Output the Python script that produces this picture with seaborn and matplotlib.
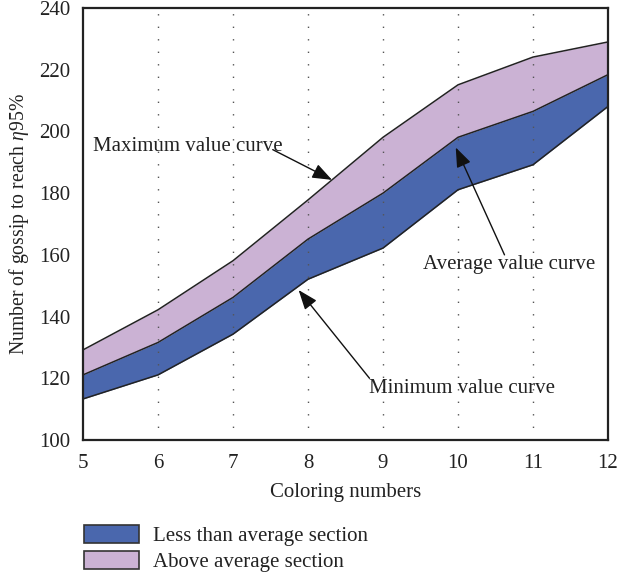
import matplotlib
matplotlib.use("Agg")
import matplotlib.pyplot as plt
from matplotlib.patches import Patch
import pandas as pd
import seaborn as sns

# Coloring numbers and the gossip counts needed to reach eta 95%
coloring = [5, 6, 7, 8, 9, 10, 11, 12]
max_vals = [129.2, 142.2, 158.1, 177.8, 198.1, 215.1, 224.1, 229.0]
avg_vals = [121.1, 131.6, 146.2, 165.1, 180.0, 198.1, 206.5, 218.4]
min_vals = [113.3, 121.1, 134.3, 152.1, 162.2, 181.1, 189.2, 208.1]

y_ticks = [100, 120, 140, 160, 180, 200, 220, 240]
legend_labels = ["Less than average section", "Above average section"]

BLUE = "#4a67ad"
LILAC = "#cbb2d4"
EDGE = "#222222"

sns.set_theme(style="white")
plt.rcParams["font.family"] = ["Liberation Serif", "DejaVu Serif"]
plt.rcParams["mathtext.fontset"] = "custom"
plt.rcParams["mathtext.it"] = "Liberation Serif:italic"
plt.rcParams["mathtext.rm"] = "Liberation Serif"
FS = 15

df = pd.DataFrame({"x": coloring, "max": max_vals, "avg": avg_vals, "min": min_vals})

fig = plt.figure(figsize=(6.17, 5.77), dpi=100)
ax = fig.add_axes([83 / 617, 1 - 440 / 577, (608 - 83) / 617, (440 - 8) / 577])

# shaded sections between the curves
ax.fill_between(df["x"], df["avg"], df["max"], color=LILAC, linewidth=0, zorder=1)
ax.fill_between(df["x"], df["min"], df["avg"], color=BLUE, linewidth=0, zorder=1)

for col in ["max", "avg", "min"]:
    sns.lineplot(data=df, x="x", y=col, ax=ax, color=EDGE, linewidth=1.1, zorder=3)

# dotted vertical guides
for xv in coloring[1:-1]:
    ax.axvline(xv, color="#555555", linewidth=1.0, linestyle=(0, (1, 8)), zorder=2)

ax.set_xlim(5, 12)
ax.set_ylim(100, 240)
ax.set_xticks(coloring)
ax.set_yticks(y_ticks)
ax.tick_params(axis="both", direction="out", length=5, width=1.2, colors="#222222",
               labelsize=FS, labelcolor="#222222", pad=4)
ax.tick_params(axis="x", pad=5)
for sp in ax.spines.values():
    sp.set_linewidth(1.6)
    sp.set_color("#222222")

ax.set_xlabel("Coloring numbers", fontsize=FS, color="#222222", labelpad=7)
ax.set_ylabel(r"Number of gossip to reach $\eta$95%", fontsize=14.2, color="#222222", labelpad=6)

arrow_kw = dict(arrowstyle="-|>,head_length=1.0,head_width=0.38", color="#111111",
                linewidth=1.0, shrinkA=0, shrinkB=0)

ax.annotate("", xy=(8.32, 184.3), xytext=(7.53, 194.1), arrowprops=arrow_kw, zorder=5)
ax.text(5.13, 195.1, "Maximum value curve", fontsize=FS, color="#222222",
        ha="left", va="center", zorder=4)

ax.annotate("", xy=(9.97, 194.8), xytext=(10.62, 160.0), arrowprops=arrow_kw, zorder=5)
ax.text(9.53, 156.8, "Average value curve", fontsize=FS, color="#222222",
        ha="left", va="center", zorder=4)

ax.annotate("", xy=(7.875, 148.6), xytext=(8.82, 120.0), arrowprops=arrow_kw, zorder=5)
ax.text(8.81, 116.8, "Minimum value curve", fontsize=FS, color="#222222",
        ha="left", va="center", zorder=4)

px = FS * 100 / 72
handles = [Patch(facecolor=BLUE, edgecolor="#333333", linewidth=1.2),
           Patch(facecolor=LILAC, edgecolor="#333333", linewidth=1.2)]
fig.legend(handles, legend_labels, loc="upper left", bbox_to_anchor=(76 / 617, 1 - 517 / 577),
           frameon=False, fontsize=FS, handlelength=55 / px, handleheight=19 / px,
           handletextpad=14 / px, labelspacing=0.25, labelcolor="#222222", borderaxespad=0)

fig.savefig("out.png", dpi=100)
